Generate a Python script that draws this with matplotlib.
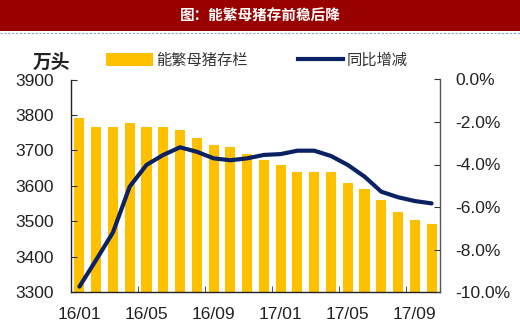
import matplotlib.pyplot as plt
from matplotlib.lines import Line2D
from matplotlib.patches import Rectangle
from matplotlib.ticker import FuncFormatter, FixedLocator

plt.rcParams['font.family'] = ['Liberation Sans', 'Noto Sans CJK SC', 'DejaVu Sans']

months = ['16/01', '16/02', '16/03', '16/04', '16/05', '16/06', '16/07', '16/08',
          '16/09', '16/10', '16/11', '16/12', '17/01', '17/02', '17/03', '17/04',
          '17/05', '17/06', '17/07', '17/08', '17/09', '17/10']
# 能繁母猪存栏 (万头)
sows = [3791, 3767, 3767, 3777, 3767, 3767, 3758, 3734, 3716, 3710, 3690,
        3673, 3658, 3640, 3640, 3640, 3608, 3590, 3560, 3527, 3503, 3492]
# 同比增减 (%)
yoy = [-9.75, -8.49, -7.2, -5.04, -4.02, -3.55, -3.19, -3.40, -3.71, -3.80, -3.71,
       -3.55, -3.51, -3.35, -3.35, -3.60, -4.02, -4.57, -5.28, -5.54, -5.72, -5.83]
shown_labels = ['16/01', '16/05', '16/09', '17/01', '17/05', '17/09']

bar_color = '#FFC000'
line_color = '#0A2263'
cjk = ['Noto Sans CJK SC', 'DejaVu Sans']

fig = plt.figure(figsize=(5.2, 3.31), dpi=100)

# header strip
fig.add_artist(Rectangle((0, 1 - 31 / 331), 1, 31 / 331, transform=fig.transFigure,
                         facecolor='#990000', edgecolor='none'))
fig.text(0.5, 1 - 15 / 331, '图：能繁母猪存前稳后降', color='white', fontsize=10.5,
         fontweight='bold', ha='center', va='center', family=cjk)
fig.add_artist(Line2D([0, 1], [1 - 32.5 / 331] * 2, transform=fig.transFigure,
                      color='#7FA7D9', lw=0.8, ls=(0, (2, 1.5))))

ax = fig.add_axes([71 / 520, 1 - 292 / 331, 369 / 520, 212.5 / 331])
x = list(range(len(months)))
ax.bar(x, sows, width=0.6, color=bar_color, zorder=1)
ax.set_ylim(3300, 3900)
ax.set_xlim(-0.5, len(months) - 0.5)
ax.set_yticks(range(3300, 3901, 100))

ax.set_xticks([months.index(m) for m in shown_labels])
ax.set_xticklabels(shown_labels)
ax.xaxis.set_minor_locator(FixedLocator([i + 3.5 for i in range(0, 20, 4)]))
ax.tick_params(axis='x', which='major', length=0, pad=11, labelsize=12.5, colors='#222222')
ax.tick_params(axis='x', which='minor', length=4, direction='in', color='#333333')
ax.tick_params(axis='y', length=4, direction='in', pad=12, labelsize=12.5,
               colors='#222222', color='#333333')
ax.spines['top'].set_visible(False)
ax.spines['right'].set_visible(False)
for s in ('left', 'bottom'):
    ax.spines[s].set_color('#222222')
    ax.spines[s].set_linewidth(1.0)

ax2 = ax.twinx()
ax2.plot(x, yoy, color=line_color, lw=3, solid_joinstyle='round',
         solid_capstyle='round', zorder=3)
ax2.set_ylim(-10, 0)
ax2.set_yticks(range(-10, 1, 2))
ax2.yaxis.set_major_formatter(FuncFormatter(lambda v, p: f'{v:.1f}%'))
ax2.tick_params(axis='y', length=4, direction='in', pad=11, labelsize=12.5,
                colors='#222222', color='#333333')
for s in ('top', 'left', 'bottom'):
    ax2.spines[s].set_visible(False)
ax2.spines['right'].set_color('#555555')
ax2.spines['right'].set_linewidth(1.0)

# unit label and legend
fig.text(51 / 520, 1 - 62 / 331, '万头', fontsize=13.5, fontweight='bold', color='#222222',
         ha='center', va='center', family=cjk)
fig.add_artist(Rectangle((106 / 520, 1 - 65.5 / 331), 47 / 520, 12 / 331,
                         transform=fig.transFigure, facecolor=bar_color, edgecolor='none'))
fig.text(156 / 520, 1 - 60 / 331, '能繁母猪存栏', fontsize=11, color='#333333',
         ha='left', va='center', family=cjk)
fig.add_artist(Line2D([298 / 520, 343 / 520], [1 - 59 / 331] * 2, transform=fig.transFigure,
                      color=line_color, lw=3))
fig.text(347 / 520, 1 - 60 / 331, '同比增减', fontsize=11, color='#333333',
         ha='left', va='center', family=cjk)

fig.savefig('out.png', dpi=100)
